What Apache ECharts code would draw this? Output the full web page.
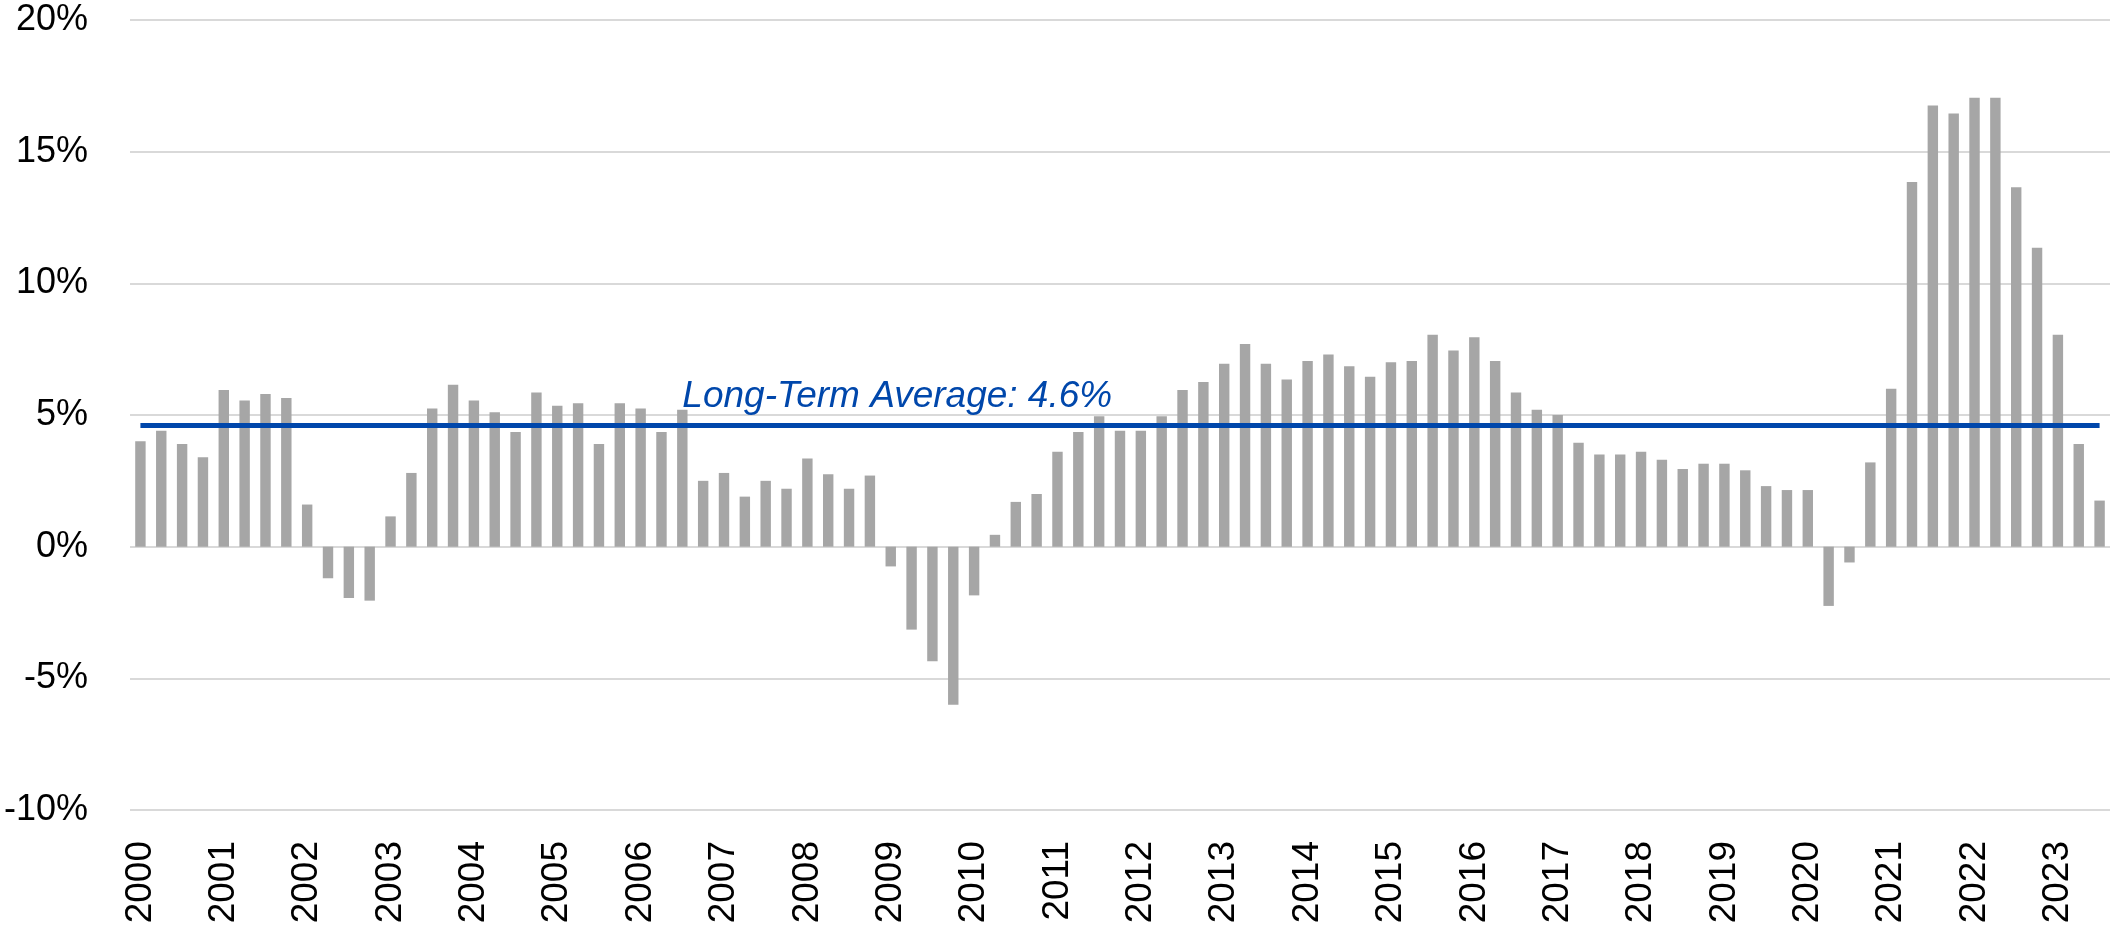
<!DOCTYPE html>
<html>
<head>
<meta charset="UTF-8">
<title>Long-Term Average</title>
<script src="https://cdn.jsdelivr.net/npm/echarts@6/dist/echarts.min.js"></script>
<style>
	html, body { margin: 0; padding: 0; background: #fff; }
	#main { width: 2112px; height: 929px; }
</style>
</head>
<body>
<div id="main"></div>

<script type="text/javascript">
	// year labels on the axis, one per Q1
	var years = ['2000', '2001', '2002', '2003', '2004', '2005', '2006', '2007', '2008', '2009', '2010', '2011',
		'2012', '2013', '2014', '2015', '2016', '2017', '2018', '2019', '2020', '2021', '2022', '2023'];
	var quarterNames = ['Q1', 'Q2', 'Q3', 'Q4'];

	// quarterly change, % (2000 Q1 .. 2023 Q3)
	var values = [
		4.0, 4.4, 3.9, 3.4,
		5.95, 5.55, 5.8, 5.65,
		1.6, -1.2, -1.95, -2.05,
		1.15, 2.8, 5.25, 6.15,
		5.55, 5.1, 4.35, 5.85,
		5.35, 5.45, 3.9, 5.45,
		5.25, 4.35, 5.2, 2.5,
		2.8, 1.9, 2.5, 2.2,
		3.35, 2.75, 2.2, 2.7,
		-0.75, -3.15, -4.35, -6.0,
		-1.85, 0.45, 1.7, 2.0,
		3.6, 4.35, 4.95, 4.4,
		4.4, 4.95, 5.95, 6.25,
		6.95, 7.7, 6.95, 6.35,
		7.05, 7.3, 6.85, 6.45,
		7.0, 7.05, 8.05, 7.45,
		7.95, 7.05, 5.85, 5.2,
		5.0, 3.95, 3.5, 3.5,
		3.6, 3.3, 2.95, 3.15,
		3.15, 2.9, 2.3, 2.15,
		2.15, -2.25, -0.6, 3.2,
		6.0, 13.85, 16.75, 16.45,
		17.05, 17.05, 13.65, 11.35,
		8.05, 3.9, 1.75
	];

	var avgValue = 4.6;
	var avgLabel = 'Long-Term Average: 4.6%';
	var avgLabelIndex = 26;

	// category names, e.g. "2000 Q1"
	var categories = [];
	for (var i = 0; i < values.length; i++) {
		categories.push(years[Math.floor(i / 4)] + ' ' + quarterNames[i % 4]);
	}

	var avgData = categories.map(function (c, i) {
		if (i === avgLabelIndex) {
			return {
				value: avgValue,
				label: {
					show: true,
					position: 'top',
					align: 'left',
					distance: 10,
					formatter: avgLabel,
					fontFamily: 'Liberation Sans',
					fontStyle: 'italic',
					fontSize: 37,
					color: '#0047AB'
				}
			};
		}
		return avgValue;
	});

	var chart = echarts.init(document.getElementById('main'));

	var option = {
		animation: false,
		grid: {
			left: 130,
			right: 2,
			top: 20,
			bottom: 119
		},
		xAxis: {
			type: 'category',
			data: categories,
			boundaryGap: true,
			axisLine: { show: false, onZero: false },
			axisTick: { show: false },
			axisLabel: {
				interval: 3,
				rotate: 90,
				margin: 31,
				fontFamily: 'Liberation Sans',
				fontSize: 37,
				color: '#000',
				formatter: function (v) { return v.slice(0, 4); }
			},
			splitLine: { show: false }
		},
		yAxis: {
			type: 'value',
			min: -10,
			max: 20,
			interval: 5,
			axisLine: { show: false },
			axisTick: { show: false },
			axisLabel: {
				margin: 42,
				fontFamily: 'Liberation Sans',
				fontSize: 36,
				color: '#000',
				formatter: '{value}%'
			},
			splitLine: {
				lineStyle: { color: '#D9D9D9', width: 2 }
			}
		},
		series: [
			{
				name: 'Change',
				type: 'bar',
				data: values,
				barWidth: '50%',
				itemStyle: { color: '#A6A6A6' }
			},
			{
				name: 'Long-Term Average',
				type: 'line',
				data: avgData,
				showSymbol: true,
				symbol: 'circle',
				symbolSize: 0,
				lineStyle: { color: '#0047AB', width: 5 },
				itemStyle: { color: '#0047AB' },
				z: 5
			}
		]
	};

	chart.setOption(option);
</script>
</body>
</html>
